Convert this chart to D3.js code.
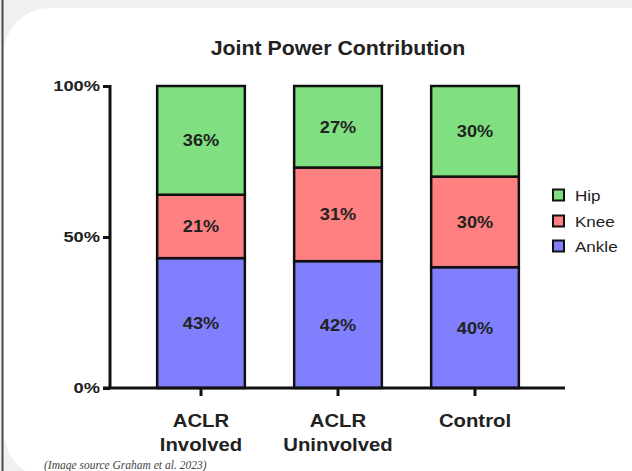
<!DOCTYPE html>
<html>
<head>
<meta charset="utf-8">
<script src="https://cdn.jsdelivr.net/npm/d3@7"></script>
<style>
  html, body { margin: 0; padding: 0; background: #f0f0f0; }
  svg { display: block; }
</style>
</head>
<body>
<svg id="chart" width="632" height="471"></svg>
<script>
// ---- data ----
const categories = ["ACLR Involved", "ACLR Uninvolved", "Control"];
const categoryLines = [["ACLR", "Involved"], ["ACLR", "Uninvolved"], ["Control"]];
const seriesNames = ["Ankle", "Knee", "Hip"];
const ankle = [43, 42, 40];
const knee = [21, 31, 30];
const hip = [36, 27, 30];
const yTickValues = [0, 50, 100];
const yTickLabels = ["0%", "50%", "100%"];
const legendOrder = ["Hip", "Knee", "Ankle"];
const title = "Joint Power Contribution";
const caption = "(Image source Graham et al. 2023)";

const colors = { Ankle: "#8080ff", Knee: "#ff8080", Hip: "#80df80" };
const SANS = "'Liberation Sans', Arial, Helvetica, sans-serif";

const svg = d3.select("#chart");

// horizontal stretch about anchor x
function stretch(sel, ax, sx) {
  sel.attr("transform", `translate(${ax},0) scale(${sx},1) translate(${-ax},0)`);
}

// card background
svg.append("rect").attr("x", 0).attr("y", 0).attr("width", 632).attr("height", 471).attr("fill", "#f0f0f0");
svg.append("rect").attr("x", 4).attr("y", 8).attr("width", 680).attr("height", 470)
  .attr("rx", 46).attr("ry", 46).attr("fill", "#ffffff");
svg.append("line").attr("x1", 2.5).attr("x2", 2.5).attr("y1", 0).attr("y2", 471)
  .attr("stroke", "#4a4a4a").attr("stroke-width", 2);

// scales
const x = d3.scaleBand().domain(categories).range([132.5, 543.5])
  .paddingInner(0.36).paddingOuter(0.18);
const y = d3.scaleLinear().domain([0, 100]).range([388, 86]);

// stack
const rows = categories.map((c, i) => ({ cat: c, Ankle: ankle[i], Knee: knee[i], Hip: hip[i] }));
const stacked = d3.stack().keys(seriesNames)(rows);

const g = svg.append("g");
stacked.forEach(layer => {
  const key = layer.key;
  layer.forEach(d => {
    g.append("rect")
      .attr("x", x(d.data.cat))
      .attr("y", y(d[1]))
      .attr("width", x.bandwidth())
      .attr("height", y(d[0]) - y(d[1]))
      .attr("fill", colors[key])
      .attr("stroke", "#111")
      .attr("stroke-width", 2.5);
  });
});
stacked.forEach(layer => {
  const key = layer.key;
  layer.forEach(d => {
    const cx = x(d.data.cat) + x.bandwidth() / 2;
    const t = g.append("text")
      .attr("x", cx)
      .attr("y", (y(d[0]) + y(d[1])) / 2)
      .attr("dy", "0.36em")
      .attr("text-anchor", "middle")
      .attr("font-family", SANS)
      .attr("font-weight", "bold")
      .attr("font-size", 16.5)
      .attr("fill", "#222")
      .text((d.data[key]) + "%");
    stretch(t, cx, 1.1);
  });
});

// y axis
const yAxis = d3.axisLeft(y).tickValues(yTickValues)
  .tickFormat((d, i) => yTickLabels[i]).tickSize(7).tickPadding(3);
const yg = svg.append("g").attr("transform", "translate(110,0)").call(yAxis);
yg.select(".domain").attr("d", `M0,${y(100) - 1}V${y(0)}`).attr("stroke", "#111").attr("stroke-width", 3);
yg.selectAll(".tick line").attr("stroke", "#111").attr("stroke-width", 3);
yg.selectAll(".tick text")
  .attr("font-family", SANS)
  .attr("font-weight", "bold").attr("font-size", 15.5).attr("fill", "#222")
  .attr("transform", "translate(-10,0) scale(1.18,1) translate(10,0)");

// x axis
const xAxis = d3.axisBottom(x).tickSize(8).tickFormat("");
const xg = svg.append("g").attr("transform", `translate(0,${y(0)})`).call(xAxis);
xg.select(".domain").attr("d", "M103,0H565").attr("stroke", "#111").attr("stroke-width", 3);
xg.selectAll(".tick line").attr("stroke", "#111").attr("stroke-width", 3);

categories.forEach((c, i) => {
  const cx = x(c) + x.bandwidth() / 2;
  const t = svg.append("text")
    .attr("x", cx)
    .attr("y", 427)
    .attr("text-anchor", "middle")
    .attr("font-family", SANS)
    .attr("font-weight", "bold").attr("font-size", 19).attr("fill", "#222");
  categoryLines[i].forEach((ln, j) => {
    t.append("tspan").attr("x", cx).attr("dy", j === 0 ? 0 : 24).text(ln);
  });
  stretch(t, cx, 1.07);
});

// title
const tt = svg.append("text").attr("x", 338).attr("y", 55).attr("text-anchor", "middle")
  .attr("font-family", SANS)
  .attr("font-weight", "bold").attr("font-size", 20.5).attr("fill", "#222").text(title);
stretch(tt, 338, 1.04);

// legend
const legendY = [195, 221, 246];
legendOrder.forEach((name, i) => {
  svg.append("rect").attr("x", 553).attr("y", legendY[i] - 5.5).attr("width", 11).attr("height", 11)
    .attr("fill", colors[name]).attr("stroke", "#111").attr("stroke-width", 2);
  const t = svg.append("text").attr("x", 575).attr("y", legendY[i]).attr("dy", "0.36em")
    .attr("font-family", SANS)
    .attr("font-size", 15.5).attr("fill", "#222").text(name);
  stretch(t, 575, 1.1);
});

// caption
svg.append("text").attr("x", 44).attr("y", 469)
  .style("font-family", "'Liberation Serif', 'DejaVu Serif', serif")
  .style("font-style", "italic").style("font-size", "11.5px").attr("fill", "#444").text(caption);
</script>
</body>
</html>
